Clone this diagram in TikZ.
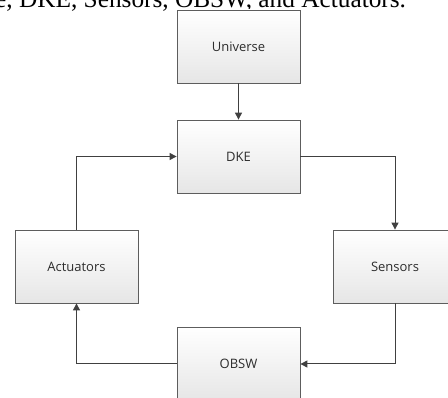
\documentclass[tikz,border=0pt]{standalone}
\usepackage{fontspec}
\setmainfont{Liberation Serif}
\newfontfamily\cajafont{Open Sans}
\usetikzlibrary{arrows.meta,shadows}
\definecolor{L}{RGB}{64,64,64}
\definecolor{T}{RGB}{45,45,45}
\definecolor{F}{RGB}{230,230,230}

\begin{document}
\begin{tikzpicture}[x=1pt,y=-1pt,
    caja/.style={draw=L!85, line width=0.8pt, top color=white, bottom color=F,
      minimum width=123pt, minimum height=73pt, inner sep=0pt,
      font=\cajafont\fontsize{13}{15}\selectfont, text=T,
      drop shadow={shadow xshift=1pt, shadow yshift=-1pt, fill=gray!60, opacity=0.6}},
    flecha/.style={draw=L, line width=1pt, -{Triangle[length=7pt,width=7pt]}}]
   	\useasboundingbox (0,0) rectangle (448,398);
   	\clip (0,0) rectangle (448,398);

	%Texto cortado arriba
   	\node[anchor=base west, inner sep=0pt, font=\fontsize{25.3}{30}\selectfont] (titulo) at (-5,7.5) {e, DKE, Sensors, OBSW, and Actuators.};

	%Cajas
   	\node[caja] (universe) at (238.5,46.5) {Universe};
   	\node[caja] (dke) at (238.5,156.5) {DKE};
   	\node[caja] (sensors) at (395,266.5) {Sensors};
   	\node[caja] (obsw) at (238.5,364) {OBSW};
   	\node[caja] (actuators) at (76.5,266.5) {Actuators};

	%Flechas
   	\draw[flecha] (universe) -- (dke);
   	\draw[flecha] (dke.east) -| (sensors.north);
   	\draw[flecha] (sensors.south) |- (obsw.east);
   	\draw[flecha] (obsw.west) -| (actuators.south);
   	\draw[flecha] (actuators.north) |- (dke.west);
\end{tikzpicture}
\end{document}
